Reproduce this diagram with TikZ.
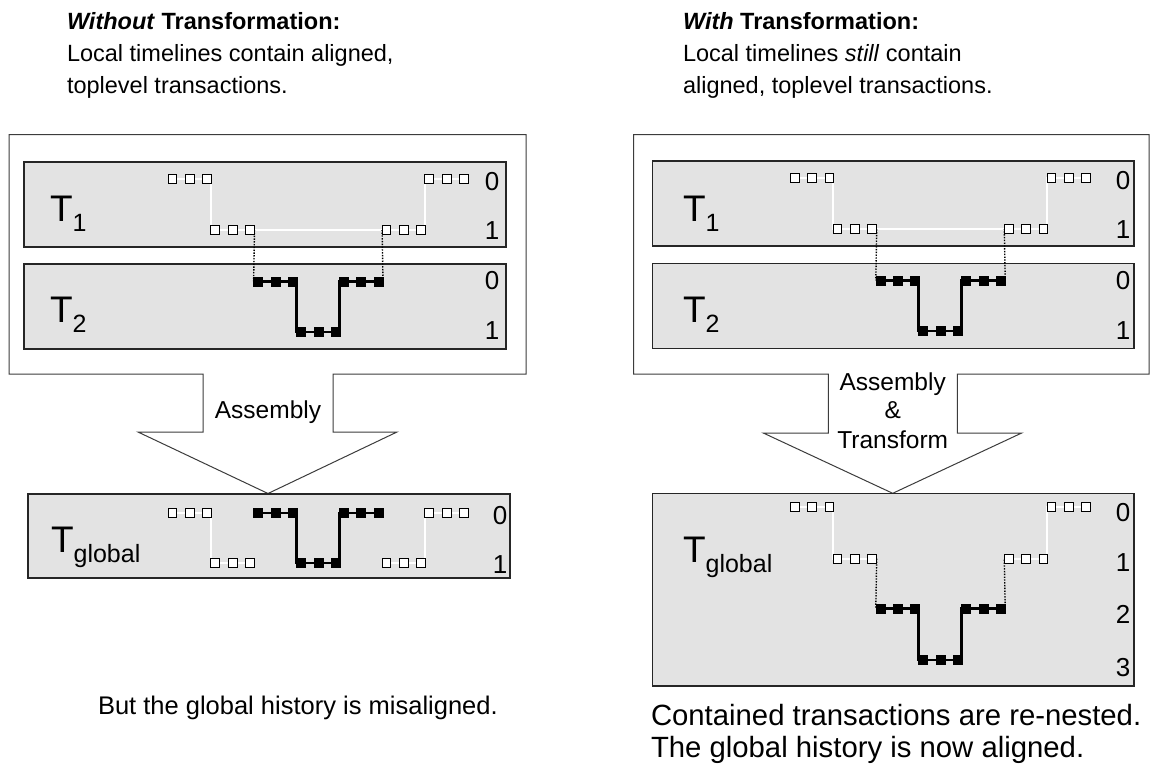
\documentclass[tikz,border=0pt]{standalone}
\usepackage{fontspec}
\setmainfont{Liberation Sans}
\definecolor{boxgray}{RGB}{227,227,227}
\definecolor{edgegray}{RGB}{60,60,60}
\pgfdeclarelayer{boxes}
\pgfdeclarelayer{lines}
\pgfsetlayers{boxes,lines,main}
\tikzset{
  panel/.style={draw=black!85, line width=1.2pt, fill=boxgray},
  outer/.style={draw=edgegray, line width=1pt, fill=white},
  hsq/.style={draw=black, fill=white, line width=0.9pt, minimum size=8.8pt, inner sep=0pt, outer sep=0pt},
  fsq/.style={draw=black, fill=black, minimum size=9pt, inner sep=0pt, outer sep=0pt},
  wline/.style={draw=white, line width=2pt},
  bline/.style={draw=black, line width=2.6pt},
  dline/.style={draw=black, line width=1.4pt, dash pattern=on 1.4pt off 1.4pt},
  txt/.style={inner sep=0pt, outer sep=0pt},
  ttl/.style={txt, anchor=base west, font=\fontsize{23.5}{28}\selectfont},
  lvl/.style={txt, font=\fontsize{26}{26}\selectfont},
  albl/.style={txt, anchor=base, font=\fontsize{24.5}{29}\selectfont},
  tlbl/.style={txt, anchor=base west},
}
\newcommand\grp[5]{%
  \foreach \j in {1,2,3}{\node[#5] (#1-\j) at ({#2+#3*42.8+(\j-1)*17.4},#4) {};}}
\newcommand\inl[2]{\draw[#2] (#1-1.center) -- (#1-3.center);}
\newcommand\stp[3]{\draw[#3] (#1-3.center) -| (#2-1.west) -- (#2-1.center);}
\newcommand\dtt[2]{\draw[dline] (#1-3.east) -- (#2-1.west);}
\newcommand\tlab[1]{{\fontsize{37}{37}\selectfont T}\raisebox{-9.3pt}{\fontsize{25}{25}\selectfont #1}}
\begin{document}
\begin{tikzpicture}[x=1pt,y=-1pt]
\useasboundingbox (0,0) rectangle (1151,763);
% ---------- boxes ----------
\begin{pgfonlayer}{boxes}
\draw[outer] (9,134.5) -- (526,134.5) -- (526,374) -- (333,374) -- (333,432) -- (397,432)
  -- (268,493.5) -- (138,432) -- (203,432) -- (203,374) -- (9,374) -- cycle;
\draw[panel] (24,162) rectangle (506,247);
\draw[panel] (24,264) rectangle (506,349);
\draw[panel] (28,494) rectangle (510,578);
\draw[outer] (633.5,134.5) -- (1149,134.5) -- (1149,374) -- (957.3,374) -- (957.3,433) -- (1021.7,433)
  -- (892.7,493.3) -- (763.3,433) -- (828.3,433) -- (828.3,374) -- (633.5,374) -- cycle;
\draw[panel] (652.3,161) rectangle (1134,246);
\draw[panel] (652.3,263.3) rectangle (1134,348.3);
\draw[panel] (652.3,493.3) rectangle (1134,686);
\end{pgfonlayer}
% ---------- titles ----------
\node[ttl] (tL1) at (67,29) {\textbf{\textit{Without} Transformation:}};
\node[ttl] (tL2) at (67,61) {Local timelines contain aligned,};
\node[ttl] (tL3) at (67,93) {toplevel transactions.};
\node[ttl] (tR1) at (683,29) {\textbf{\textit{With} Transformation:}};
\node[ttl] (tR2) at (683,61) {Local timelines \textit{still} contain};
\node[ttl] (tR3) at (683,93) {aligned, toplevel transactions.};
% ---------- labels ----------
\node[tlbl] (lT1) at (50,221.7) {\tlab{1}};
\node[tlbl] (lT2) at (50,322.7) {\tlab{2}};
\node[tlbl] (lTg) at (51,552.7) {\tlab{global}};
\node[tlbl] (rT1) at (683,221.7) {\tlab{1}};
\node[tlbl] (rT2) at (683,322.7) {\tlab{2}};
\node[tlbl] (rTg) at (683,562.7) {\tlab{global}};
% ---------- level numbers ----------
\node[lvl] (lT1n0) at (492,182) {0};
\node[lvl] (lT1n1) at (492,231) {1};
\node[lvl] (lT2n0) at (492,281) {0};
\node[lvl] (lT2n1) at (492,331) {1};
\node[lvl] (lTgn0) at (500,516) {0};
\node[lvl] (lTgn1) at (500,565) {1};
\node[lvl] (rT1n0) at (1123,181) {0};
\node[lvl] (rT1n1) at (1123,230) {1};
\node[lvl] (rT2n0) at (1123,281) {0};
\node[lvl] (rT2n1) at (1123,331) {1};
\node[lvl] (rTgn0) at (1123,512.5) {0};
\node[lvl] (rTgn1) at (1123,562.5) {1};
\node[lvl] (rTgn2) at (1123,614) {2};
\node[lvl] (rTgn3) at (1123,667.5) {3};
% ---------- arrow labels ----------
\node[albl] (aL) at (268,418) {Assembly};
\node[albl] (aR1) at (892.7,390) {Assembly};
\node[albl] (aR2) at (892.7,418.5) {\&};
\node[albl] (aR3) at (892.7,448) {Transform};
% ---------- bottom texts ----------
\node[txt, anchor=base west, font=\fontsize{25.5}{30}\selectfont] (bL) at (98,714) {But the global history is misaligned.};
\node[txt, anchor=base west, font=\fontsize{29.3}{32}\selectfont] (bR1) at (651,725) {Contained transactions are re-nested.};
\node[txt, anchor=base west, font=\fontsize{29.3}{32}\selectfont] (bR2) at (651,757) {The global history is now aligned.};
% ---------- left panel squares ----------
\def\cL{172.5}
\grp{La0}{\cL}{0}{179}{hsq}
\grp{La1}{\cL}{1}{230}{hsq}
\grp{La5}{\cL}{5}{230}{hsq}
\grp{La6}{\cL}{6}{179}{hsq}
\grp{Lb2}{\cL}{2}{281.5}{fsq}
\grp{Lb3}{\cL}{3}{332}{fsq}
\grp{Lb4}{\cL}{4}{281.5}{fsq}
\grp{Lg0}{\cL}{0}{513}{hsq}
\grp{Lg1}{\cL}{1}{563}{hsq}
\grp{Lg2}{\cL}{2}{513}{fsq}
\grp{Lg3}{\cL}{3}{563}{fsq}
\grp{Lg4}{\cL}{4}{513}{fsq}
\grp{Lg5}{\cL}{5}{563}{hsq}
\grp{Lg6}{\cL}{6}{513}{hsq}
% ---------- right panel squares ----------
\def\cR{794.7}
\grp{Ra0}{\cR}{0}{178.3}{hsq}
\grp{Ra1}{\cR}{1}{229.3}{hsq}
\grp{Ra5}{\cR}{5}{229.3}{hsq}
\grp{Ra6}{\cR}{6}{178.3}{hsq}
\grp{Rb2}{\cR}{2}{280.3}{fsq}
\grp{Rb3}{\cR}{3}{331}{fsq}
\grp{Rb4}{\cR}{4}{280.3}{fsq}
\grp{Rg0}{\cR}{0}{507}{hsq}
\grp{Rg1}{\cR}{1}{558.7}{hsq}
\grp{Rg2}{\cR}{2}{608.7}{fsq}
\grp{Rg3}{\cR}{3}{660}{fsq}
\grp{Rg4}{\cR}{4}{608.7}{fsq}
\grp{Rg5}{\cR}{5}{558.7}{hsq}
\grp{Rg6}{\cR}{6}{507}{hsq}
% ---------- connectors ----------
\begin{pgfonlayer}{lines}
% left T1
\inl{La0}{wline} \stp{La0}{La1}{wline}
\draw[wline] (La1-1.center) -- (La5-3.center);
\stp{La5}{La6}{wline} \inl{La6}{wline}
% left T2
\inl{Lb2}{bline} \stp{Lb2}{Lb3}{bline} \inl{Lb3}{bline} \stp{Lb3}{Lb4}{bline} \inl{Lb4}{bline}
\dtt{La1}{Lb2} \draw[dline] (Lb4-3.east) -- (La5-1.west);
% left global
\inl{Lg0}{wline} \stp{Lg0}{Lg1}{wline} \inl{Lg1}{wline}
\inl{Lg2}{bline} \stp{Lg2}{Lg3}{bline} \inl{Lg3}{bline} \stp{Lg3}{Lg4}{bline} \inl{Lg4}{bline}
\inl{Lg5}{wline} \stp{Lg5}{Lg6}{wline} \inl{Lg6}{wline}
% right T1
\inl{Ra0}{wline} \stp{Ra0}{Ra1}{wline}
\draw[wline] (Ra1-1.center) -- (Ra5-3.center);
\stp{Ra5}{Ra6}{wline} \inl{Ra6}{wline}
% right T2
\inl{Rb2}{bline} \stp{Rb2}{Rb3}{bline} \inl{Rb3}{bline} \stp{Rb3}{Rb4}{bline} \inl{Rb4}{bline}
\dtt{Ra1}{Rb2} \draw[dline] (Rb4-3.east) -- (Ra5-1.west);
% right global
\inl{Rg0}{wline} \stp{Rg0}{Rg1}{wline} \inl{Rg1}{wline}
\dtt{Rg1}{Rg2}
\inl{Rg2}{bline} \stp{Rg2}{Rg3}{bline} \inl{Rg3}{bline} \stp{Rg3}{Rg4}{bline} \inl{Rg4}{bline}
\draw[dline] (Rg4-3.east) -- (Rg5-1.west);
\inl{Rg5}{wline} \stp{Rg5}{Rg6}{wline} \inl{Rg6}{wline}
\end{pgfonlayer}
\end{tikzpicture}
\end{document}
